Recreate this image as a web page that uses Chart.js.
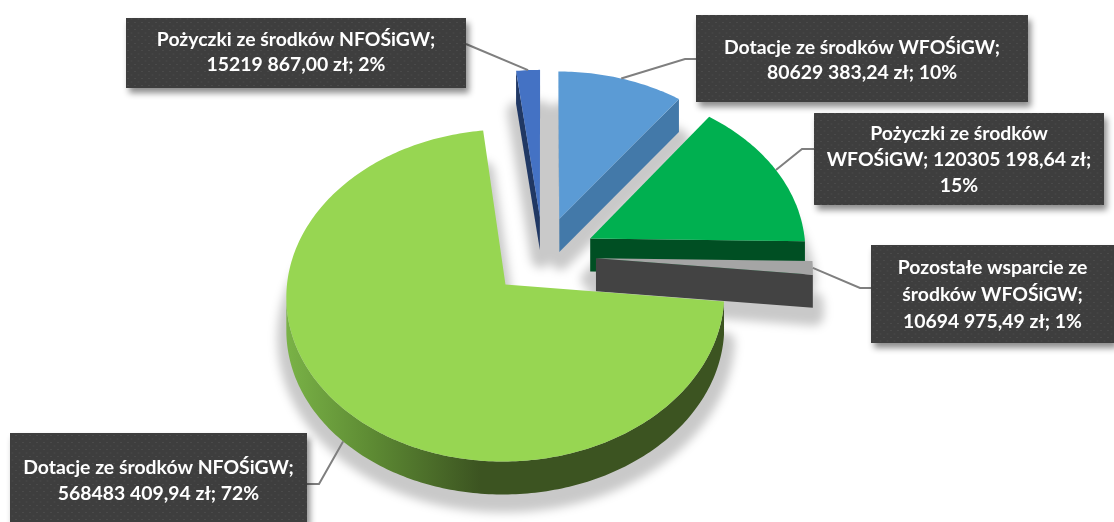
<!DOCTYPE html>
<html>
<head>
<meta charset="utf-8">
<style>
  html, body { margin: 0; padding: 0; background: #ffffff; }
  canvas { display: block; }
</style>
<script src="https://cdn.jsdelivr.net/npm/chart.js@4/dist/chart.umd.min.js"></script>
</head>
<body>
<canvas id="myChart" width="1114" height="522"></canvas>
<script>
const categories = [
  "Dotacje ze środków WFOŚiGW",
  "Pożyczki ze środków WFOŚiGW",
  "Pozostałe wsparcie ze środków WFOŚiGW",
  "Dotacje ze środków NFOŚiGW",
  "Pożyczki ze środków NFOŚiGW",
];
const amounts = [80629383.24, 120305198.64, 10694975.49, 568483409.94, 15219867.0];
const labelLines = [
  ["Dotacje ze środków WFOŚiGW;", "80629 383,24 zł; 10%"],
  ["Pożyczki ze środków", "WFOŚiGW; 120305 198,64 zł;", "15%"],
  ["Pozostałe wsparcie ze", "środków WFOŚiGW;", "10694 975,49 zł; 1%"],
  ["Dotacje ze środków NFOŚiGW;", "568483 409,94 zł; 72%"],
  ["Pożyczki ze środków NFOŚiGW;", "15219 867,00 zł; 2%"],
];
const topColors = ["#5b9bd5", "#00b050", "#a5a5a5", "#97d652", "#4472c4"];
const wallColors = ["#4379a9", "#004f23", "#434343", "#3c5421", "#203864"];

// label boxes: x, y, w, h, first baseline, line height, leader elbow
const boxes = [
  { x: 696, y: 15, w: 332, h: 87, base: 54, step: 25, from: [696, 59], elbow: [685, 59] },
  { x: 814, y: 113, w: 290, h: 92, base: 140, step: 26, from: [814, 149], elbow: [802, 149] },
  { x: 871, y: 245, w: 243, h: 98, base: 274, step: 27, from: [871, 288], elbow: [860, 288] },
  { x: 10, y: 433, w: 297, h: 89, base: 474, step: 25.5, from: [307, 484], elbow: [319, 484], low: true },
  { x: 126, y: 18, w: 340, h: 70, base: 46, step: 25, from: [466, 44], elbow: [466, 44] },
];

// 3D look of the pie
const tilt = 0.748;
const persp = 0.0003;
const depth = 33;
const drawOrder = [4, 0, 1, 2, 3];

function project(cx, cy, u, v, z) {
  const s = 1 / (1 - persp * v);
  return [cx + u * s, cy + tilt * v * s + z];
}

function slicePoints(arc) {
  const p = arc.getProps(["x", "y", "startAngle", "endAngle", "outerRadius"], true);
  const mid = (p.startAngle + p.endAngle) / 2;
  const off = (arc.options.offset || 0) / 4; // same scaling as ArcElement.draw
  const ox = Math.cos(mid) * off;
  const oy = Math.sin(mid) * off;
  const steps = Math.max(2, Math.ceil((p.endAngle - p.startAngle) * 60));
  const rim = [];
  for (let i = 0; i <= steps; i++) {
    const a = p.startAngle + ((p.endAngle - p.startAngle) * i) / steps;
    rim.push([ox + Math.cos(a) * p.outerRadius, oy + Math.sin(a) * p.outerRadius]);
  }
  const midRim = [ox + Math.cos(mid) * p.outerRadius, oy + Math.sin(mid) * p.outerRadius];
  return { cx: p.x, cy: p.y, apex: [ox, oy], rim: rim, midRim: midRim };
}

function polygon(ctx, pts) {
  ctx.beginPath();
  pts.forEach((q, i) => (i ? ctx.lineTo(q[0], q[1]) : ctx.moveTo(q[0], q[1])));
  ctx.closePath();
}

// soft shadow comes from the bottom faces, spread a bit and blurred
function drawShadow(ctx, slices) {
  const off = document.createElement("canvas");
  off.width = ctx.canvas.width;
  off.height = ctx.canvas.height;
  const g = off.getContext("2d");
  g.fillStyle = "#000";
  g.strokeStyle = "#000";
  g.lineWidth = 20;
  g.lineJoin = "round";
  slices.forEach((s) => {
    polygon(g, [s.apex].concat(s.rim).map((q) => project(s.cx, s.cy, q[0], q[1], depth)));
    g.fill();
    g.stroke();
  });
  ctx.save();
  ctx.filter = "blur(5px)";
  ctx.globalAlpha = 0.21;
  ctx.drawImage(off, 1, 8);
  ctx.restore();
}

function drawWall(ctx, s, outer, color) {
  const A = project(s.cx, s.cy, s.apex[0], s.apex[1], 0);
  const O = project(s.cx, s.cy, outer[0], outer[1], 0);
  const M = project(s.cx, s.cy, s.midRim[0], s.midRim[1], 0);
  const dx = O[0] - A[0];
  const dy = O[1] - A[1];
  const side = dx * (M[1] - A[1]) - dy * (M[0] - A[0]);
  // wall only shows when the slice lies on the far side of it
  if (side * dx > 0) return;
  polygon(ctx, [A, O, [O[0], O[1] + depth], [A[0], A[1] + depth]]);
  ctx.fillStyle = color;
  ctx.fill();
}

function drawRim(ctx, s, fill) {
  const top = s.rim.map((q) => project(s.cx, s.cy, q[0], q[1], 0));
  // only the part of the rim facing the viewer, where x falls going clockwise
  let from = -1;
  let to = -1;
  for (let i = 0; i < top.length - 1; i++) {
    if (top[i + 1][0] < top[i][0]) {
      if (from < 0) from = i;
      to = i + 1;
    }
  }
  if (from < 0) return;
  const run = top.slice(from, to + 1);
  const low = run.map((q) => [q[0], q[1] + depth]).reverse();
  polygon(ctx, run.concat(low));
  ctx.fillStyle = fill;
  ctx.fill();
}

function dotPattern(ctx) {
  const c = document.createElement("canvas");
  c.width = 7;
  c.height = 7;
  const g = c.getContext("2d");
  g.fillStyle = "#3e3e3e";
  g.fillRect(0, 0, 7, 7);
  g.fillStyle = "#4a4a4a";
  g.fillRect(1, 1, 2, 1);
  g.fillRect(4.5, 4.5, 2, 1);
  return ctx.createPattern(c, "repeat");
}

const pie3d = {
  id: "pie3d",
  beforeDatasetsDraw(chart) {
    const ctx = chart.ctx;
    const arcs = chart.getDatasetMeta(0).data;
    const slices = arcs.map(slicePoints);

    drawShadow(ctx, slices);

    drawOrder.forEach((i) => {
      const s = slices[i];
      let rimFill = wallColors[i];
      if (i === 3) {
        const g = ctx.createLinearGradient(285, 0, 480, 0);
        g.addColorStop(0, "#7ab347");
        g.addColorStop(0.45, "#5d8a33");
        g.addColorStop(1, "#3c5421");
        rimFill = g;
      }
      drawRim(ctx, s, rimFill);
      drawWall(ctx, s, s.rim[0], wallColors[i]);
      drawWall(ctx, s, s.rim[s.rim.length - 1], wallColors[i]);
      polygon(ctx, [s.apex].concat(s.rim).map((q) => project(s.cx, s.cy, q[0], q[1], 0)));
      ctx.fillStyle = topColors[i];
      ctx.fill();
    });

    // leader lines
    ctx.strokeStyle = "#7f7f7f";
    ctx.lineWidth = 2;
    boxes.forEach((b, i) => {
      const s = slices[i];
      const end = project(s.cx, s.cy, s.midRim[0], s.midRim[1], b.low ? depth : 0);
      ctx.beginPath();
      ctx.moveTo(b.from[0], b.from[1]);
      ctx.lineTo(b.elbow[0], b.elbow[1]);
      ctx.lineTo(end[0], end[1]);
      ctx.stroke();
    });

    // label boxes
    const pattern = dotPattern(ctx);
    boxes.forEach((b, i) => {
      ctx.save();
      ctx.shadowColor = "rgba(0,0,0,0.45)";
      ctx.shadowBlur = 6;
      ctx.shadowOffsetX = 3;
      ctx.shadowOffsetY = 5;
      ctx.fillStyle = pattern;
      ctx.fillRect(b.x, b.y, b.w, b.h);
      ctx.restore();
      ctx.fillStyle = "#ffffff";
      ctx.font = "bold 19.4px Lato";
      ctx.textAlign = "center";
      ctx.textBaseline = "alphabetic";
      labelLines[i].forEach((t, n) => {
        ctx.fillText(t, b.x + b.w / 2, b.base + n * b.step);
      });
    });
    return false;
  },
};

function myLoadFunction() {
  const ctx = document.getElementById("myChart").getContext("2d");
  new Chart(ctx, {
    type: "pie",
    data: {
      labels: categories,
      datasets: [
        {
          data: amounts,
          backgroundColor: topColors,
          offset: 212,
        },
      ],
    },
    options: {
      responsive: false,
      animation: false,
      radius: 216,
      layout: { padding: { left: 0, top: 0, right: 28, bottom: 10 } },
      plugins: {
        legend: { display: false },
        tooltip: { enabled: false },
      },
    },
    plugins: [pie3d],
  });
}

document.addEventListener("DOMContentLoaded", myLoadFunction);
</script>
</body>
</html>
